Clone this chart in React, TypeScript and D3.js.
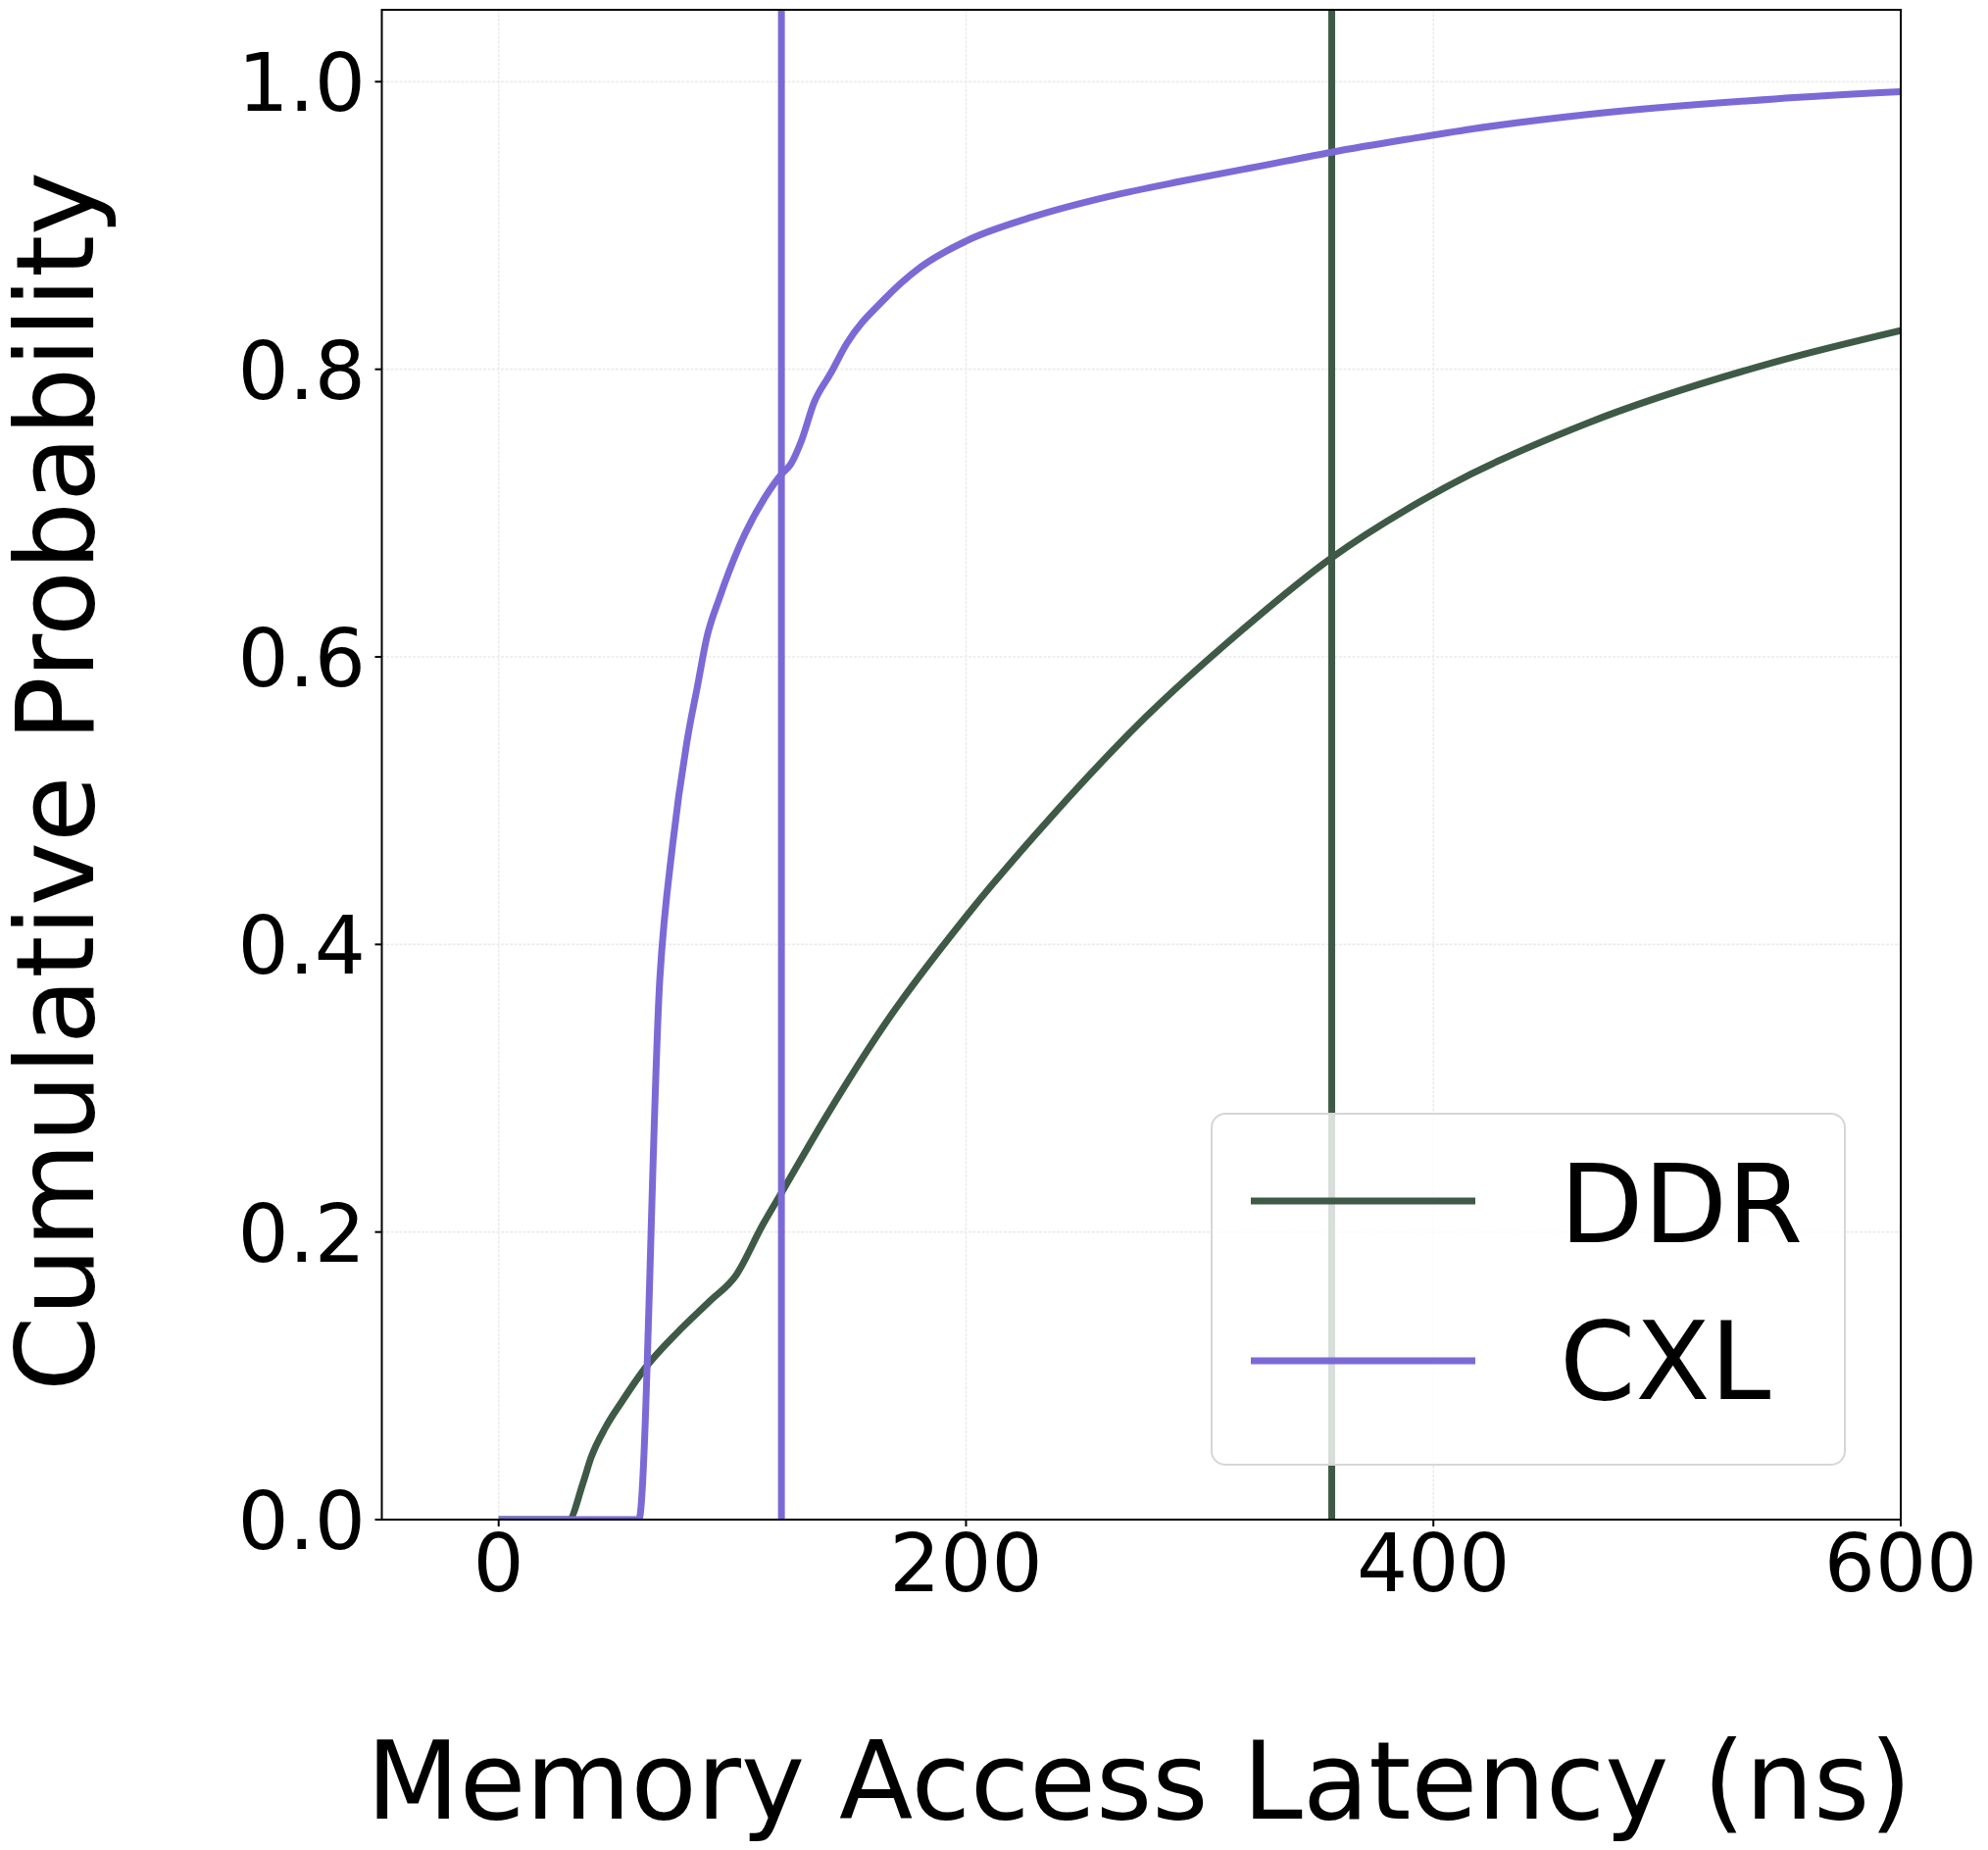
import React from "react";
import * as d3 from "d3";

// latency (ns) / cumulative probability
const ddrLatency = [0, 30, 36, 39.5, 45.7, 52.7, 62.5, 76.4, 90.4, 101.6, 113, 122, 140, 164.6, 199.8, 236.6, 276.8, 316.9, 356.5, 389, 416, 465, 546, 600];
const ddrCdf = [0, 0, 0.025, 0.043, 0.064, 0.082, 0.105, 0.13, 0.152, 0.17, 0.205, 0.23, 0.28, 0.343, 0.419, 0.489, 0.558, 0.617, 0.669, 0.703, 0.727, 0.762, 0.805, 0.827];

const cxlLatency = [0, 60, 69, 74.5, 81, 85, 89, 94.5, 103, 114, 121, 125, 129.5, 135, 142, 149, 164.6, 180.5, 199.8, 228.6, 260.7, 292.8, 324.9, 356.5, 389, 416, 465, 546, 600];
const cxlCdf = [0, 0, 0.377, 0.47, 0.545, 0.579, 0.613, 0.641, 0.677, 0.711, 0.727, 0.734, 0.75, 0.777, 0.797, 0.818, 0.848, 0.871, 0.889, 0.906, 0.92, 0.931, 0.941, 0.951, 0.96, 0.967, 0.977, 0.988, 0.993];

// vertical markers (axvline)
const ddrMarker = 356.5;
const cxlMarker = 121;

const xTicks = [0, 200, 400, 600];
const yTicks = [0, 0.2, 0.4, 0.6, 0.8, 1.0];
const seriesNames = ["DDR", "CXL"];

const W = 2028;
const H = 1887;
const left = 389.5, right = 1939, top = 10, bottom = 1550;
const FONT = "DejaVu Sans";
const DDR_COLOR = "#3e5a46";
const CXL_COLOR = "#7b6ad6";

export default function App() {
  const x = d3.scaleLinear().domain([-50, 600]).range([left, right]);
  const y = d3.scaleLinear().domain([0, 1.05]).range([bottom, top]);

  const line = d3.line<[number, number]>()
    .x(d => x(d[0]))
    .y(d => y(d[1]))
    .curve(d3.curveMonotoneX);

  const ddrPts = ddrLatency.map((v, i) => [v, ddrCdf[i]] as [number, number]);
  const cxlPts = cxlLatency.map((v, i) => [v, cxlCdf[i]] as [number, number]);

  const colors = [DDR_COLOR, CXL_COLOR];

  return (
    <div style={{ position: "absolute", left: 0, top: 0 }}>
      <svg width={W} height={H} style={{ display: "block", background: "#fff" }} fontFamily={FONT}>
        <defs>
          <clipPath id="plot">
            <rect x={left} y={top} width={right - left} height={bottom - top} />
          </clipPath>
        </defs>

        {/* grid */}
        <g stroke="#ececec" strokeWidth={1.6} strokeDasharray="3,1.5">
          {xTicks.map(t => (
            <line key={"gx" + t} x1={x(t)} x2={x(t)} y1={top} y2={bottom} />
          ))}
          {yTicks.map(t => (
            <line key={"gy" + t} x1={left} x2={right} y1={y(t)} y2={y(t)} />
          ))}
        </g>

        <g clipPath="url(#plot)" fill="none" strokeWidth={7} strokeLinejoin="round">
          <path d={line(ddrPts) || ""} stroke={DDR_COLOR} />
          <line x1={x(ddrMarker)} x2={x(ddrMarker)} y1={top} y2={bottom} stroke={DDR_COLOR} />
          <path d={line(cxlPts) || ""} stroke={CXL_COLOR} />
          <line x1={x(cxlMarker)} x2={x(cxlMarker)} y1={top} y2={bottom} stroke={CXL_COLOR} />
        </g>

        {/* frame */}
        <rect x={left} y={top} width={right - left} height={bottom - top} fill="none" stroke="#000" strokeWidth={2} />

        {/* x ticks */}
        {xTicks.map(t => (
          <g key={"xt" + t}>
            <line x1={x(t)} x2={x(t)} y1={bottom} y2={bottom + 7} stroke="#000" strokeWidth={2} />
            <text x={x(t)} y={1623} fontSize={82} textAnchor="middle">{t}</text>
          </g>
        ))}
        {/* y ticks */}
        {yTicks.map(t => (
          <g key={"yt" + t}>
            <line x1={left - 7} x2={left} y1={y(t)} y2={y(t)} stroke="#000" strokeWidth={2} />
            <text x={373} y={y(t) + 30} fontSize={82} textAnchor="end">{t.toFixed(1)}</text>
          </g>
        ))}

        <text x={1162} y={1855} fontSize={110} textAnchor="middle">Memory Access Latency (ns)</text>
        <text transform="translate(95, 797) rotate(-90)" fontSize={110} textAnchor="middle">Cumulative Probability</text>

        {/* legend */}
        <g>
          <rect x={1236} y={1136} width={646} height={358} rx={14} fill="#fff" fillOpacity={0.8} stroke="#d6d6d6" strokeWidth={2} />
          {seriesNames.map((name, i) => (
            <g key={name}>
              <line x1={1276} x2={1505} y1={1225 + i * 163} y2={1225 + i * 163} stroke={colors[i]} strokeWidth={7} />
              <text x={1591} y={1267 + i * 160} fontSize={111}>{name}</text>
            </g>
          ))}
        </g>
      </svg>
    </div>
  );
}
